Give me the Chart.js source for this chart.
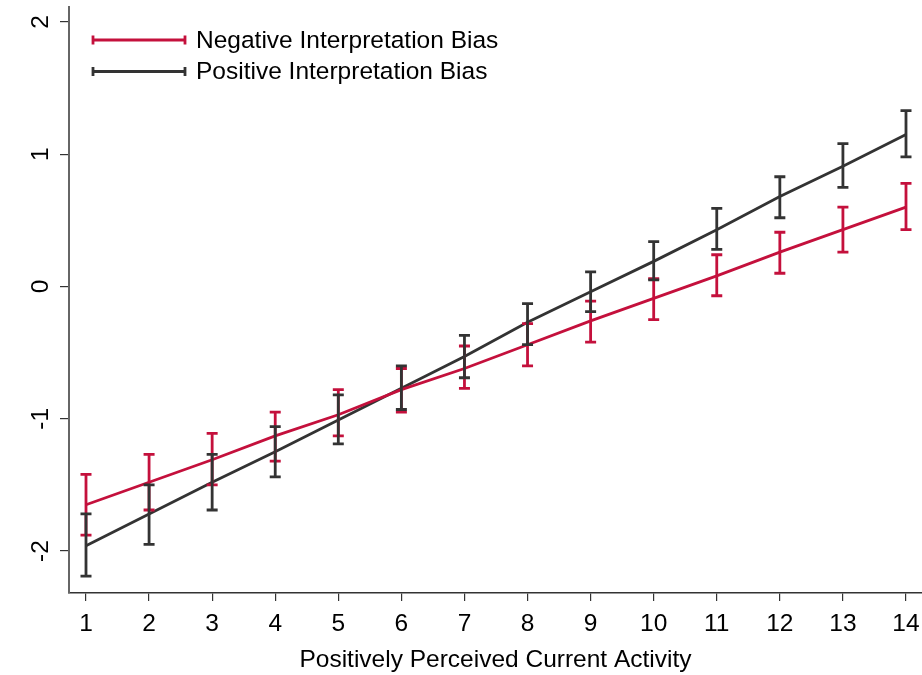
<!DOCTYPE html>
<html>
<head>
<meta charset="utf-8">
<script src="https://cdn.jsdelivr.net/npm/chart.js@4"></script>
<style>
html,body{margin:0;padding:0;background:#fff;}
#wrap{width:922px;height:675px;position:relative;}
</style>
</head>
<body>
<div id="wrap"><canvas id="c" width="922" height="675"></canvas></div>
<script>
const categories = [1,2,3,4,5,6,7,8,9,10,11,12,13,14];
const yTicks = [-2,-1,0,1,2];
const negMean = [-1.65,-1.48,-1.31,-1.13,-0.97,-0.78,-0.62,-0.44,-0.26,-0.09,0.08,0.26,0.43,0.60];
const negLow  = [-1.88,-1.69,-1.50,-1.32,-1.13,-0.95,-0.77,-0.60,-0.42,-0.25,-0.07,0.10,0.26,0.43];
const negHigh = [-1.42,-1.27,-1.11,-0.95,-0.78,-0.62,-0.45,-0.28,-0.11,0.06,0.24,0.41,0.60,0.78];
const posMean = [-1.96,-1.72,-1.48,-1.25,-1.01,-0.77,-0.53,-0.27,-0.04,0.19,0.43,0.68,0.91,1.15];
const posLow  = [-2.19,-1.95,-1.69,-1.44,-1.19,-0.93,-0.69,-0.44,-0.19,0.05,0.28,0.52,0.75,0.98];
const posHigh = [-1.72,-1.50,-1.27,-1.06,-0.82,-0.60,-0.37,-0.13,0.11,0.34,0.59,0.83,1.08,1.33];
const seriesNames = ['Negative Interpretation Bias','Positive Interpretation Bias'];
const xTitle = 'Positively Perceived Current Activity';

const RED = '#c4103c';
const DARK = '#333333';
const FONT = '"Liberation Sans", Arial, sans-serif';
const FS = 24.5;

const pts = (ys) => categories.map((x,i)=>({x:x,y:ys[i]}));

const errorBars = {
  id:'errorBars',
  afterDatasetsDraw(chart){
    const ctx = chart.ctx, xs = chart.scales.x, ys = chart.scales.y;
    chart.data.datasets.forEach((ds)=>{
      ctx.save();
      ctx.strokeStyle = ds.borderColor;
      ctx.lineWidth = 2.8;
      ds.data.forEach((p,i)=>{
        const px = xs.getPixelForValue(p.x);
        const pl = ys.getPixelForValue(ds.errLow[i]);
        const ph = ys.getPixelForValue(ds.errHigh[i]);
        ctx.beginPath();
        ctx.moveTo(px,pl); ctx.lineTo(px,ph);
        ctx.moveTo(px-5.5,pl); ctx.lineTo(px+5.5,pl);
        ctx.moveTo(px-5.5,ph); ctx.lineTo(px+5.5,ph);
        ctx.stroke();
      });
      ctx.restore();
    });
  }
};

const yLabels = {
  id:'yLabels',
  afterDraw(chart){
    const ctx = chart.ctx, ys = chart.scales.y;
    ctx.save();
    ctx.fillStyle = '#000';
    ctx.font = FS + 'px ' + FONT;
    ctx.textAlign = 'center';
    ctx.textBaseline = 'middle';
    yTicks.forEach(v=>{
      const py = ys.getPixelForValue(v);
      ctx.save();
      ctx.translate(41, py);
      ctx.rotate(-Math.PI/2);
      ctx.fillText(String(v), 0, 0);
      ctx.restore();
    });
    ctx.restore();
  }
};

const legendBox = {
  id:'legendBox',
  afterDraw(chart){
    const ctx = chart.ctx;
    const rows = [40, 71.5];
    chart.data.datasets.forEach((ds,i)=>{
      const y = rows[i];
      ctx.save();
      ctx.strokeStyle = ds.borderColor;
      ctx.lineWidth = 2.8;
      ctx.beginPath();
      ctx.moveTo(93,y); ctx.lineTo(185,y);
      ctx.moveTo(93,y-4.5); ctx.lineTo(93,y+4.5);
      ctx.moveTo(185,y-4.5); ctx.lineTo(185,y+4.5);
      ctx.stroke();
      ctx.fillStyle = '#000';
      ctx.font = FS + 'px ' + FONT;
      ctx.textAlign = 'left';
      ctx.textBaseline = 'middle';
      ctx.fillText(seriesNames[i], 196, y+1);
      ctx.restore();
    });
  }
};

new Chart(document.getElementById('c'), {
  type:'line',
  data:{
    datasets:[
      {label:seriesNames[0], data:pts(negMean), errLow:negLow, errHigh:negHigh,
       borderColor:RED, backgroundColor:RED, borderWidth:2.8, pointRadius:0, tension:0, fill:false},
      {label:seriesNames[1], data:pts(posMean), errLow:posLow, errHigh:posHigh,
       borderColor:DARK, backgroundColor:DARK, borderWidth:2.8, pointRadius:0, tension:0, fill:false}
    ]
  },
  options:{
    responsive:false,
    animation:false,
    layout:{padding:{top:7,right:0,left:0,bottom:0}},
    plugins:{legend:{display:false}, tooltip:{enabled:false}},
    scales:{
      x:{
        type:'linear', min:0.7305, max:14.2537,
        afterBuildTicks(s){ s.ticks = categories.map(v=>({value:v})); },
        afterFit(s){ s.height = 82; s.paddingLeft = 0; s.paddingRight = 0; },
        grid:{display:true, drawOnChartArea:false, drawTicks:true, tickLength:8, color:'#333', lineWidth:1.2},
        border:{display:true, color:'#333', width:1.5},
        ticks:{color:'#000', font:{family:FONT, size:FS}, padding:9, maxRotation:0, autoSkip:false,
               callback:(v)=>String(v)},
        title:{display:true, text:xTitle, color:'#000', font:{family:FONT, size:FS}, padding:{top:0,bottom:0}}
      },
      y:{
        type:'linear', min:-2.3176, max:2.1134,
        afterBuildTicks(s){ s.ticks = yTicks.map(v=>({value:v})); },
        afterFit(s){ s.width = 69; s.paddingTop = 0; s.paddingBottom = 0; },
        grid:{display:true, drawOnChartArea:false, drawTicks:true, tickLength:9, color:'#333', lineWidth:1.2},
        border:{display:true, color:'#666', width:2},
        ticks:{display:false}
      }
    }
  },
  plugins:[errorBars, yLabels, legendBox]
});
</script>
</body>
</html>
